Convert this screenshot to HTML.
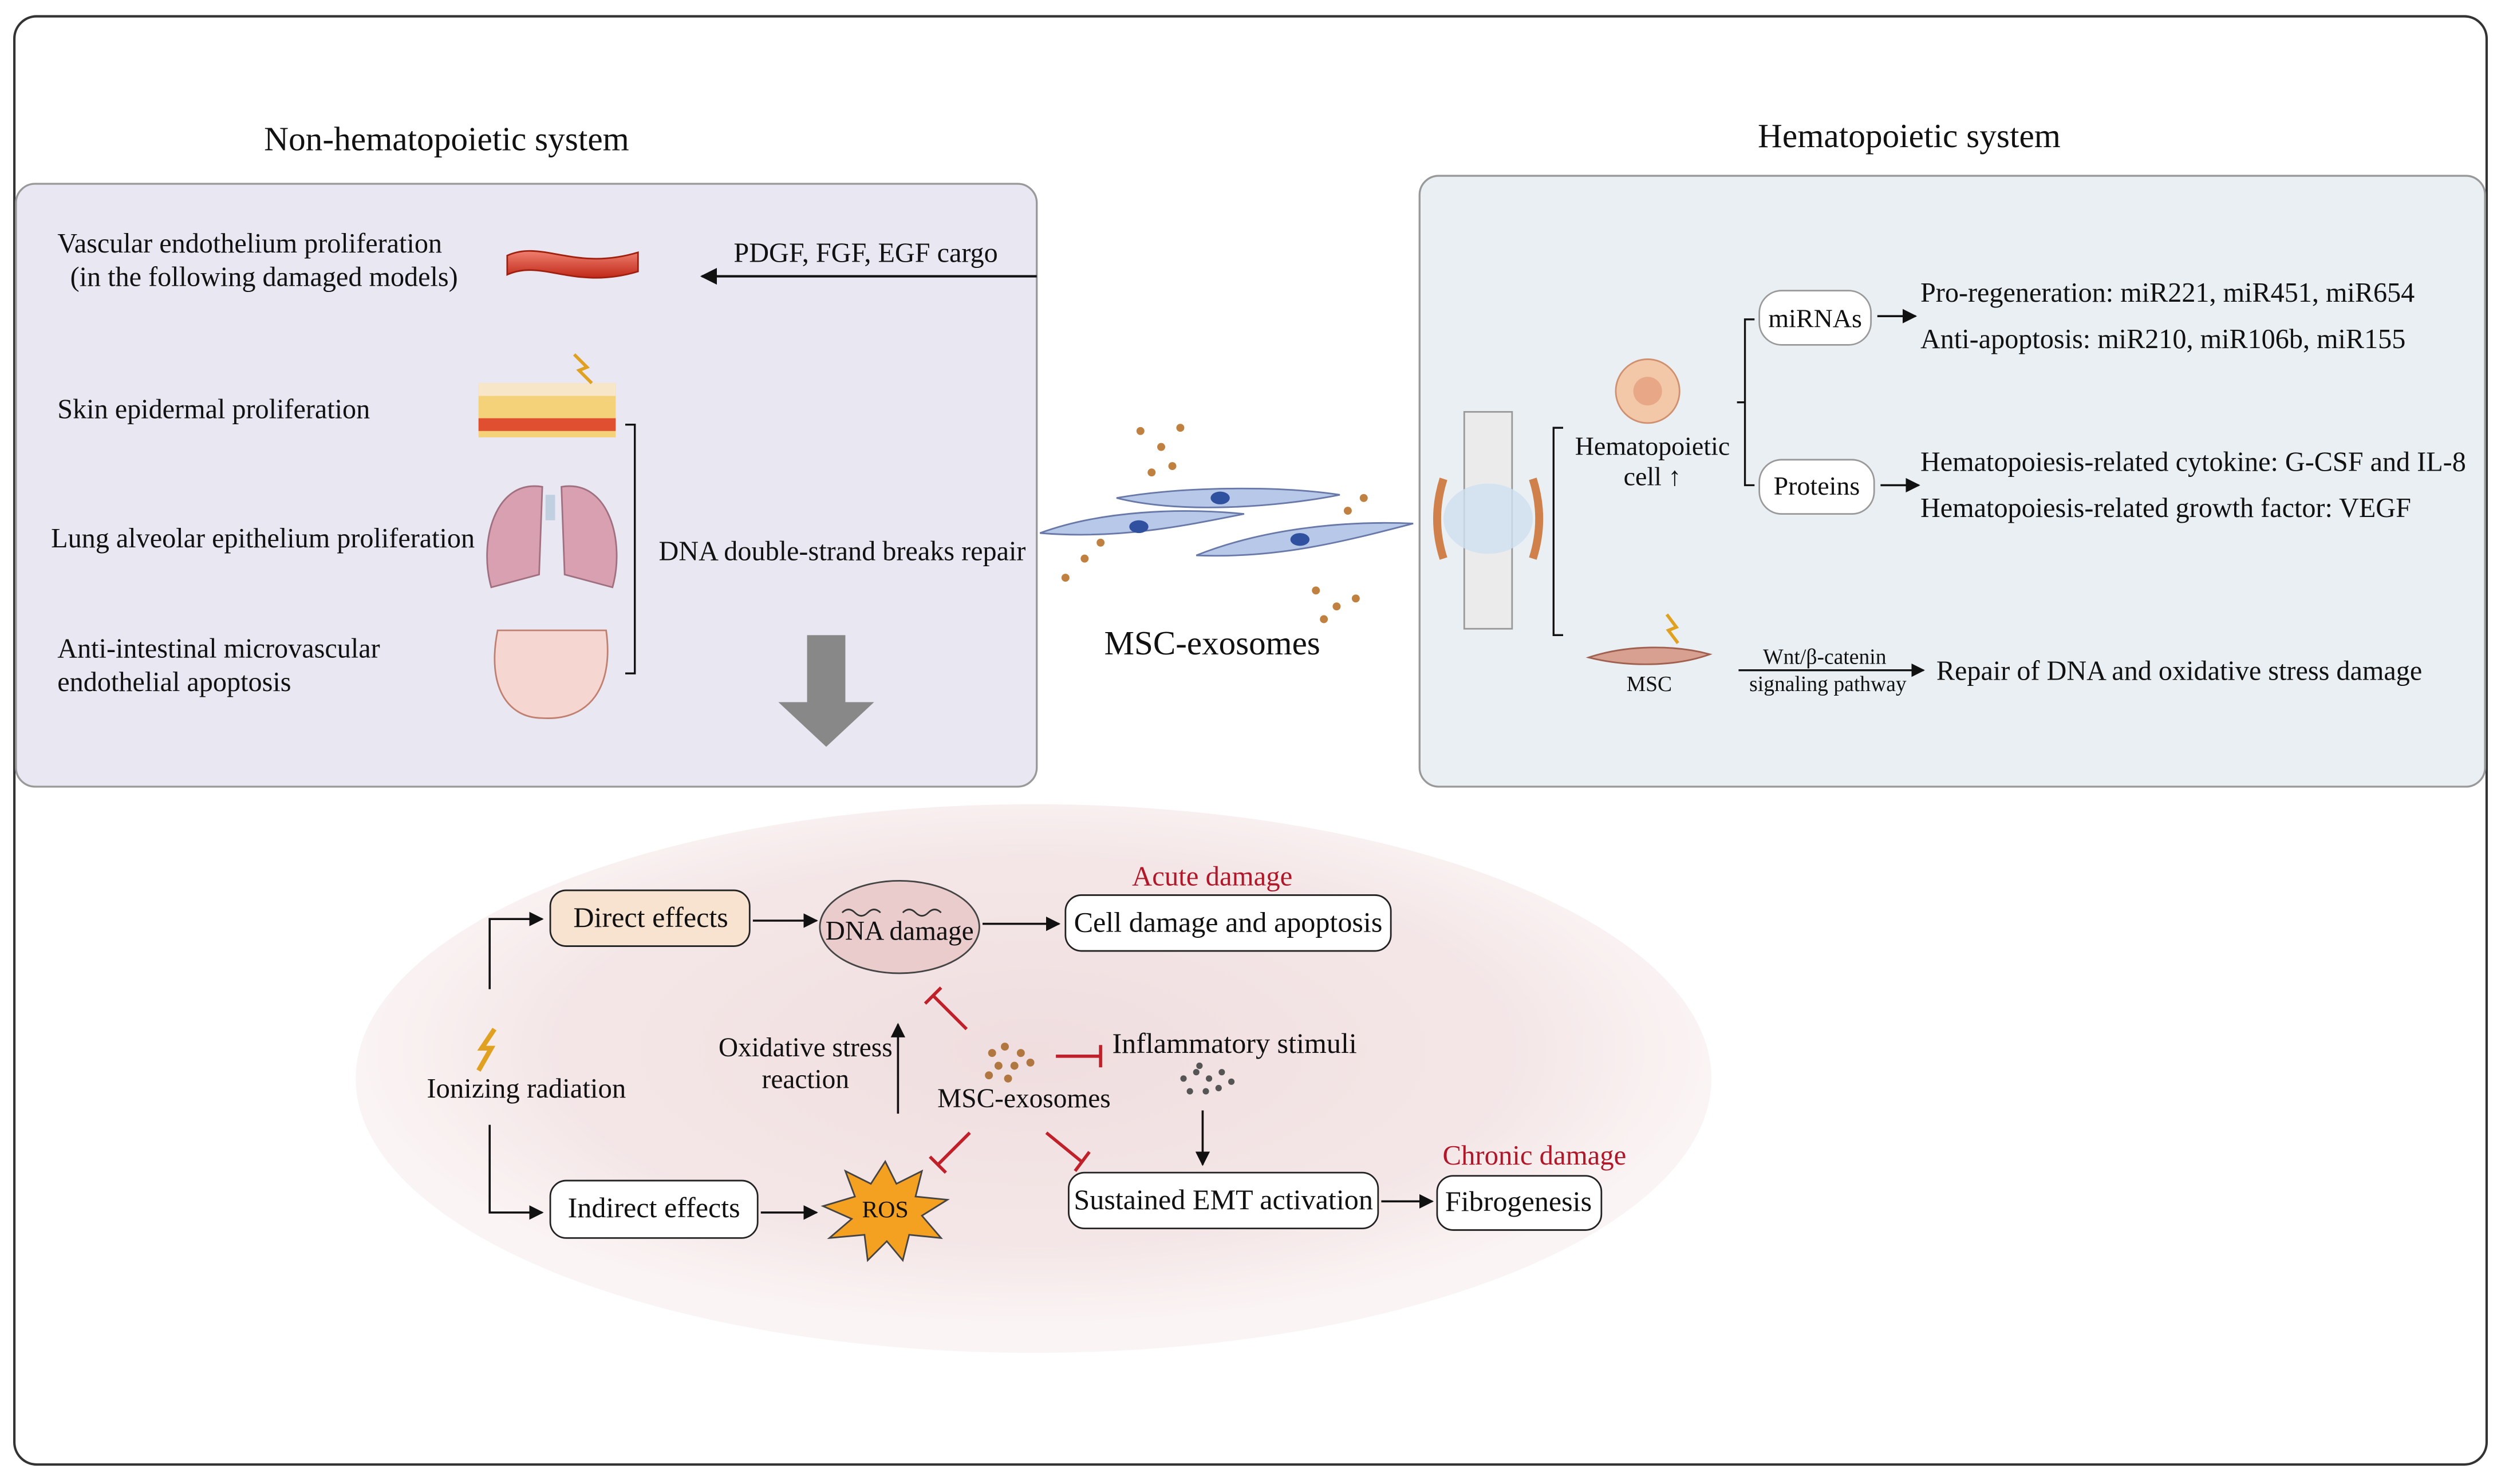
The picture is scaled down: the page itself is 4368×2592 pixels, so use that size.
<!DOCTYPE html>
<html><head><meta charset="utf-8"><style>
html,body{margin:0;padding:0;background:#fff}
svg{display:block}
text{font-family:"Liberation Serif",serif;fill:#111}
</style></head><body>
<svg width="4368" height="2592" viewBox="0 0 1568 930" xmlns="http://www.w3.org/2000/svg">
<defs>
<radialGradient id="eg" cx="0.5" cy="0.45" r="0.5">
<stop offset="0" stop-color="#f0dedf"/><stop offset="0.7" stop-color="#f4e6e7"/><stop offset="1" stop-color="#fbf4f4"/>
</radialGradient>
<linearGradient id="vg" x1="0" y1="0" x2="0" y2="1"><stop offset="0" stop-color="#f08070"/><stop offset="1" stop-color="#c02818"/></linearGradient>
<marker id="ar" viewBox="0 0 10 10" refX="9" refY="5" markerWidth="7" markerHeight="7" orient="auto"><path d="M0,0L10,5L0,10z" fill="#111"/></marker>
</defs>
<rect x="9" y="10" width="1550" height="908" rx="14" fill="#fff" stroke="#333" stroke-width="1.5"/>
<text x="280" y="94" font-size="21.3" text-anchor="middle">Non-hematopoietic system</text>
<text x="1197" y="92" font-size="21.3" text-anchor="middle">Hematopoietic system</text>
<rect x="10" y="115" width="640" height="378" rx="12" fill="#e9e7f1" stroke="#999" stroke-width="1.2"/>
<g font-size="17.3">
<text x="36" y="158">Vascular endothelium proliferation</text>
<text x="44" y="179">(in the following damaged models)</text>
<text x="36" y="262">Skin epidermal proliferation</text>
<text x="32" y="343">Lung alveolar epithelium proliferation</text>
<text x="36" y="412">Anti-intestinal microvascular</text>
<text x="36" y="433">endothelial apoptosis</text>
<text x="460" y="164">PDGF, FGF, EGF cargo</text>
<text x="413" y="351">DNA double-strand breaks repair</text>
</g>
<path d="M650,173 H440" stroke="#111" stroke-width="1.5" marker-end="url(#ar)"/>
<path d="M392,266 h6 v156 h-6" fill="none" stroke="#111" stroke-width="1.2"/>
<path d="M318,160 C340,150 360,170 400,158 L400,170 C360,182 340,162 318,172 Z" fill="url(#vg)" stroke="#a02010"/>
<rect x="300" y="240" width="86" height="34" fill="#f4d27a"/>
<rect x="300" y="240" width="86" height="8" fill="#f7e6c8"/>
<rect x="300" y="262" width="86" height="8" fill="#e05030"/>
<path d="M360,222 l8,8 -5,2 8,8" stroke="#e0a020" stroke-width="2" fill="none"/>
<path d="M340,305 C310,300 300,340 308,368 L338,360 Z M352,305 C382,300 392,340 384,368 L354,360 Z" fill="#d8a0b0" stroke="#a07080"/>
<rect x="342" y="310" width="6" height="16" fill="#c0d0e0"/>
<path d="M312,395 C305,430 318,450 340,450 C370,452 385,430 380,395 Z" fill="#f6d6d0" stroke="#c08070"/>
<polygon points="506,398 530,398 530,440 548,440 518,468 488,440 506,440" fill="#888"/>
<rect x="890" y="110" width="668" height="383" rx="12" fill="#e9eff2" stroke="#999" stroke-width="1.2"/>
<rect x="918" y="258" width="30" height="136" fill="#ebebeb" stroke="#999"/>
<ellipse cx="933" cy="325" rx="28" ry="22" fill="#d0e0f0" opacity="0.8"/>
<path d="M905,300 q-8,25 0,50 M961,300 q8,25 0,50" stroke="#d0804a" stroke-width="5" fill="none"/>
<path d="M980,268 h-6 v130 h6" fill="none" stroke="#111" stroke-width="1.2"/>
<circle cx="1033" cy="245" r="20" fill="#f2c8a8" stroke="#d09070"/>
<circle cx="1033" cy="245" r="9" fill="#e8a888"/>
<text x="1036" y="285" font-size="16.5" text-anchor="middle">Hematopoietic</text>
<text x="1036" y="304" font-size="16.5" text-anchor="middle">cell ↑</text>
<path d="M1100,200 h-6 v104 h6 M1094,252 h-5" fill="none" stroke="#111" stroke-width="1.2"/>
<rect x="1103" y="182" width="70" height="34" rx="14" fill="#fff" stroke="#999"/>
<text x="1138" y="205" font-size="16.5" text-anchor="middle">miRNAs</text>
<rect x="1103" y="288" width="72" height="34" rx="14" fill="#fff" stroke="#999"/>
<text x="1139" y="310" font-size="16.5" text-anchor="middle">Proteins</text>
<path d="M1177,198 h24" stroke="#111" stroke-width="1.3" marker-end="url(#ar)"/>
<path d="M1179,304 h24" stroke="#111" stroke-width="1.3" marker-end="url(#ar)"/>
<g font-size="17.3">
<text x="1204" y="189">Pro-regeneration: miR221, miR451, miR654</text>
<text x="1204" y="218">Anti-apoptosis: miR210, miR106b, miR155</text>
<text x="1204" y="295">Hematopoiesis-related cytokine: G-CSF and IL-8</text>
<text x="1204" y="324">Hematopoiesis-related growth factor: VEGF</text>
<text x="1214" y="426">Repair of DNA and oxidative stress damage</text>
</g>
<path d="M996,412 C1020,404 1050,404 1072,410 C1050,418 1020,418 996,412Z" fill="#d8a090" stroke="#a06050"/>
<path d="M1045,385 l6,8 -5,2 6,8" stroke="#e0a020" stroke-width="2" fill="none"/>
<text x="1034" y="433" font-size="13.5" text-anchor="middle">MSC</text>
<text x="1144" y="416" font-size="13.5" text-anchor="middle">Wnt/β-catenin</text>
<text x="1146" y="433" font-size="13.5" text-anchor="middle">signaling pathway</text>
<path d="M1090,420 h116" stroke="#111" stroke-width="1.2" marker-end="url(#ar)"/>
<g fill="#b8c8e8" stroke="#6878a8">
<path d="M652,334 C690,320 740,318 780,322 C740,330 700,338 652,334Z"/>
<path d="M700,312 C740,305 800,304 840,310 C800,318 740,322 700,312Z"/>
<path d="M750,348 C790,332 840,326 886,328 C840,340 800,350 750,348Z"/>
</g>
<g fill="#3050a0"><ellipse cx="714" cy="330" rx="6" ry="4"/><ellipse cx="765" cy="312" rx="6" ry="4"/><ellipse cx="815" cy="338" rx="6" ry="4"/></g>
<g fill="#c08040">
<circle cx="715" cy="270" r="2.5"/><circle cx="728" cy="280" r="2.5"/><circle cx="740" cy="268" r="2.5"/><circle cx="735" cy="292" r="2.5"/><circle cx="722" cy="296" r="2.5"/>
<circle cx="680" cy="350" r="2.5"/><circle cx="668" cy="362" r="2.5"/><circle cx="690" cy="340" r="2.5"/>
<circle cx="825" cy="370" r="2.5"/><circle cx="838" cy="380" r="2.5"/><circle cx="830" cy="388" r="2.5"/><circle cx="850" cy="375" r="2.5"/><circle cx="845" cy="320" r="2.5"/><circle cx="855" cy="312" r="2.5"/>
</g>
<text x="760" y="410" font-size="21.2" text-anchor="middle">MSC-exosomes</text>
<ellipse cx="648" cy="676" rx="425" ry="172" fill="url(#eg)"/>
<text x="760" y="555" font-size="17.5" text-anchor="middle" style="fill:#b0182a">Acute damage</text>
<text x="962" y="730" font-size="17.5" text-anchor="middle" style="fill:#b0182a">Chronic damage</text>
<rect x="345" y="558" width="125" height="35" rx="10" fill="#f8e2d0" stroke="#222"/>
<text x="408" y="581" font-size="18" text-anchor="middle">Direct  effects</text>
<ellipse cx="564" cy="581" rx="50" ry="29" fill="#eacccc" stroke="#444"/>
<path d="M528,572 q4,-4 8,0 t8,0 t8,0 M566,572 q4,-4 8,0 t8,0 t8,0" stroke="#333" fill="none"/>
<text x="564" y="589" font-size="17" text-anchor="middle">DNA damage</text>
<rect x="668" y="561" width="204" height="35" rx="10" fill="#fff" stroke="#222"/>
<text x="770" y="584" font-size="18" text-anchor="middle">Cell damage and apoptosis</text>
<path d="M307,620 V576 H340" fill="none" stroke="#111" stroke-width="1.3" marker-end="url(#ar)"/>
<path d="M307,705 V760 H340" fill="none" stroke="#111" stroke-width="1.3" marker-end="url(#ar)"/>
<path d="M472,577 H512" stroke="#111" stroke-width="1.3" marker-end="url(#ar)"/>
<path d="M616,579 H664" stroke="#111" stroke-width="1.3" marker-end="url(#ar)"/>
<path d="M310,645 l-8,12 6,0 -8,14" stroke="#e0a020" stroke-width="3" fill="none"/>
<text x="330" y="688" font-size="17.5" text-anchor="middle">Ionizing radiation</text>
<rect x="345" y="740" width="130" height="36" rx="10" fill="#fff" stroke="#222"/>
<text x="410" y="763" font-size="18" text-anchor="middle">Indirect  effects</text>
<path d="M477,760 H512" stroke="#111" stroke-width="1.3" marker-end="url(#ar)"/>
<polygon points="555,728 562,742 578,734 574,750 594,752 578,762 590,776 570,774 566,790 556,778 544,790 542,774 520,776 534,764 516,756 536,750 530,734 546,742" fill="#f4a020" stroke="#444"/>
<text x="555" y="763" font-size="15" text-anchor="middle">ROS</text>
<text x="505" y="662" font-size="17" text-anchor="middle">Oxidative stress</text>
<text x="505" y="682" font-size="17" text-anchor="middle">reaction</text>
<path d="M563,698 V642" stroke="#111" stroke-width="1.3" marker-end="url(#ar)"/>
<g fill="#b07840"><circle cx="622" cy="660" r="2.5"/><circle cx="630" cy="656" r="2.5"/><circle cx="640" cy="660" r="2.5"/><circle cx="626" cy="668" r="2.5"/><circle cx="636" cy="668" r="2.5"/><circle cx="646" cy="666" r="2.5"/><circle cx="632" cy="676" r="2.5"/><circle cx="620" cy="674" r="2.5"/></g>
<text x="642" y="694" font-size="17" text-anchor="middle">MSC-exosomes</text>
<g stroke="#c0202a" stroke-width="2" fill="none">
<path d="M606,645 L585,624 M580,629 L590,619"/>
<path d="M662,662 H690 M690,655 V669"/>
<path d="M608,710 L588,730 M583,725 L593,735"/>
<path d="M656,710 L678,728 M674,734 L683,722"/>
</g>
<text x="774" y="660" font-size="18" text-anchor="middle">Inflammatory stimuli</text>
<g fill="#555"><circle cx="742" cy="676" r="2"/><circle cx="750" cy="672" r="2"/><circle cx="758" cy="676" r="2"/><circle cx="766" cy="672" r="2"/><circle cx="746" cy="684" r="2"/><circle cx="756" cy="684" r="2"/><circle cx="764" cy="682" r="2"/><circle cx="772" cy="678" r="2"/><circle cx="752" cy="668" r="2"/></g>
<path d="M754,696 V730" stroke="#111" stroke-width="1.3" marker-end="url(#ar)"/>
<rect x="670" y="735" width="194" height="35" rx="10" fill="#fff" stroke="#222"/>
<text x="767" y="758" font-size="18" text-anchor="middle">Sustained EMT activation</text>
<path d="M866,753 H898" stroke="#111" stroke-width="1.3" marker-end="url(#ar)"/>
<rect x="901" y="737" width="103" height="34" rx="10" fill="#fff" stroke="#222"/>
<text x="952" y="759" font-size="18" text-anchor="middle">Fibrogenesis</text>
</svg>
</body></html>
